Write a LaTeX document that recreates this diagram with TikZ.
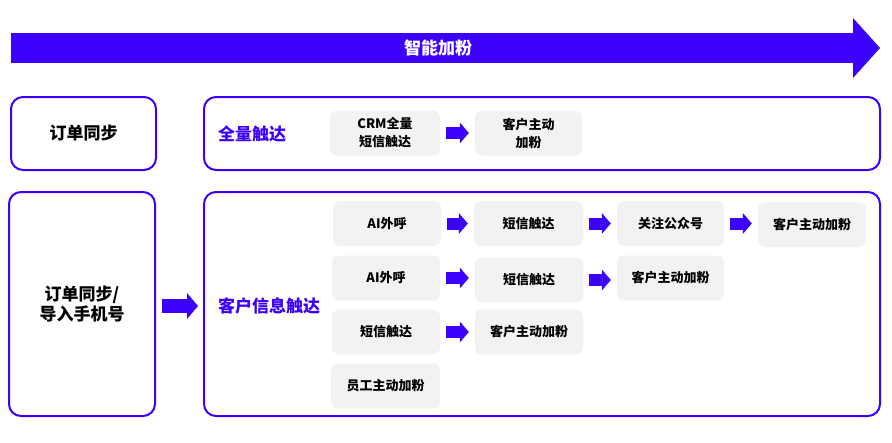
\documentclass[tikz,border=0pt]{standalone}
\usepackage{fontspec}
\setmainfont{Noto Sans CJK SC}
\usepackage{tikz}
\usepackage{xcolor}
\usetikzlibrary{arrows.meta}
\definecolor{vividviolet}{HTML}{3C00FF}
\definecolor{mistgray}{HTML}{F2F2F2}

\begin{document}
\begin{tikzpicture}[x=1pt, y=-1pt,
        frame/.style={draw=vividviolet, line width=2pt, rounded corners=12pt, inner sep=0pt, align=center, font=\fontsize{17}{20}\selectfont\bfseries},
        chip/.style={fill=mistgray, rounded corners=7pt, minimum width=108pt, minimum height=45pt, inner sep=0pt, align=center, font=\fontsize{13}{18}\selectfont\bfseries},
        tag/.style={text=vividviolet, anchor=west, inner sep=0pt, font=\fontsize{17}{20}\selectfont\bfseries},
        push/.style={draw=vividviolet, line width=12pt, -{Triangle[length=9pt, width=21pt, line width=0pt]}, shorten <=6pt, shorten >=6pt}]
    \useasboundingbox (0,0) rectangle (892,442);

    \coordinate (flowstart) at (11,48);
    \coordinate (flowend) at (880,48);
    \draw[draw=vividviolet, line width=30pt, -{Triangle[length=27pt, width=60pt, line width=0pt]}] (flowstart) -- (flowend);
    \node[text=white, inner sep=0pt, font=\fontsize{17}{20}\selectfont\bfseries] (flowtitle) at (438,48) {智能加粉};

    \node[frame, minimum width=145pt, minimum height=73pt] (ordersync) at (83.5,133.5) {订单同步};
    \node[frame, minimum width=676pt, minimum height=73pt] (fullreach) at (542,133.5) {};
    \node[tag] (fulltag) at (218,134) {全量触达};
    \node[chip, minimum width=110pt] (crmsms) at (385,133) {CRM全量\\短信触达};
    \node[chip, minimum width=107pt] (fulladd) at (528.5,133) {客户主动\\加粉};
    \draw[push] (crmsms.east) -- (crmsms.east -| fulladd.west);

    \node[frame, minimum width=146pt, minimum height=224pt] (orderimport) at (82,304) {订单同步/\\导入手机号};
    \node[frame, minimum width=676pt, minimum height=224pt] (inforeach) at (542,304) {};
    \node[tag] (infotag) at (218,306) {客户信息触达};
    \draw[push, line width=14pt, -{Triangle[length=11pt, width=26pt, line width=0pt]}, shorten >=5pt] (orderimport.east |- infotag) -- (inforeach.west |- infotag);

    \node[chip] (callA) at (387,223.5) {AI外呼};
    \node[chip, minimum width=109pt] (smsA) at (528.5,223.5) {短信触达};
    \node[chip, minimum width=107pt] (follow) at (670.5,223.5) {关注公众号};
    \node[chip] (addA) at (812,224.5) {客户主动加粉};
    \draw[push] (callA.east) -- (callA.east -| smsA.west);
    \draw[push] (smsA.east) -- (smsA.east -| follow.west);
    \draw[push] (follow.east) -- (follow.east -| addA.west);

    \node[chip] (callB) at (386,278) {AI外呼};
    \node[chip] (smsB) at (529,280) {短信触达};
    \node[chip, minimum width=107pt] (addB) at (670.5,278) {客户主动加粉};
    \draw[push] (callB.east) -- (callB.east -| smsB.west);
    \draw[push] (smsB.east) -- (smsB.east -| addB.west);

    \node[chip] (smsC) at (386,332) {短信触达};
    \node[chip] (addC) at (529,332) {客户主动加粉};
    \draw[push] (smsC.east) -- (smsC.east -| addC.west);

    \node[chip, minimum width=109pt] (staffadd) at (385.5,386) {员工主动加粉};
\end{tikzpicture}
\end{document}
